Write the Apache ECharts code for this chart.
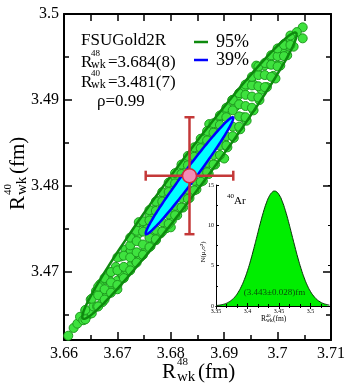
<!DOCTYPE html>
<html>
<head>
<meta charset="utf-8">
<script src="https://cdn.jsdelivr.net/npm/echarts@6/dist/echarts.min.js"></script>
<style>
html, body { margin: 0; padding: 0; background: #fff; }
#main { width: 349px; height: 386px; }
</style>
</head>
<body>
<div id="main"></div>
<script>
// samples of (R48, R40)
var samples = [
    [3.6608,3.4626],[3.6618,3.4635],[3.6625,3.4640],[3.6630,3.4648],[3.6636,3.4644],[3.6640,3.4655],
    [3.6645,3.4650],[3.6650,3.4668],[3.6652,3.4652],[3.6655,3.4660],[3.6660,3.4678],[3.6662,3.4660],
    [3.6668,3.4686],[3.6672,3.4665],[3.6675,3.4672],[3.6678,3.4691],[3.6681,3.4674],[3.6685,3.4690],
    [3.6688,3.4700],[3.6692,3.4682],[3.6697,3.4706],[3.6700,3.4690],[3.6700,3.4680],[3.6705,3.4700],
    [3.6706,3.4718],[3.6710,3.4696],[3.6715,3.4726],[3.6718,3.4702],[3.6722,3.4722],[3.6725,3.4725],
    [3.6726,3.4708],[3.6731,3.4740],[3.6735,3.4712],[3.6738,3.4722],[3.6740,3.4745],[3.6740,3.4758],
    [3.6744,3.4718],[3.6750,3.4756],[3.6753,3.4725],[3.6755,3.4750],[3.6760,3.4766],[3.6762,3.4730],
    [3.6768,3.4772],[3.6770,3.4748],[3.6772,3.4737],[3.6778,3.4783],[3.6781,3.4745],[3.6785,3.4775],
    [3.6788,3.4791],[3.6792,3.4751],[3.6798,3.4800],[3.6800,3.4772],[3.6800,3.4752],[3.6802,3.4760],
    [3.6809,3.4810],[3.6812,3.4766],[3.6815,3.4803],[3.6820,3.4818],[3.6823,3.4775],[3.6828,3.4792],
    [3.6832,3.4830],[3.6835,3.4786],[3.6845,3.4840],[3.6848,3.4796],[3.6850,3.4833],[3.6856,3.4848],
    [3.6860,3.4806],[3.6865,3.4822],[3.6868,3.4860],[3.6871,3.4814],[3.6872,3.4872],[3.6880,3.4868],
    [3.6883,3.4825],[3.6885,3.4862],[3.6892,3.4880],[3.6895,3.4834],[3.6900,3.4850],[3.6900,3.4832],
    [3.6904,3.4888],[3.6906,3.4845],[3.6915,3.4900],[3.6918,3.4856],[3.6920,3.4892],[3.6926,3.4905],
    [3.6930,3.4866],[3.6935,3.4880],[3.6938,3.4915],[3.6942,3.4876],[3.6950,3.4923],[3.6955,3.4888],
    [3.6955,3.4918],[3.6960,3.4940],[3.6962,3.4932],[3.6966,3.4900],[3.6970,3.4912],[3.6975,3.4940],
    [3.6980,3.4915],[3.6985,3.4942],[3.6988,3.4950],[3.6992,3.4928],[3.6996,3.4925],[3.6998,3.4940],
    [3.7000,3.4958],[3.7005,3.4940],[3.7010,3.4960],[3.7012,3.4965],[3.7018,3.4952],[3.7020,3.4963],
    [3.7025,3.4970],[3.7030,3.4962],[3.7047,3.49845],[3.7047,3.49717],
    [3.6640,3.4656],[3.6640,3.4645],[3.6652,3.4669],[3.6664,3.4660],[3.6664,3.4673],[3.6664,3.4683],
    [3.6676,3.4668],[3.6676,3.4680],[3.6676,3.4693],[3.6688,3.4676],[3.6688,3.4688],[3.6688,3.4700],
    [3.6700,3.4685],[3.6700,3.4702],[3.6700,3.4717],[3.6712,3.4693],[3.6712,3.4706],[3.6712,3.4719],
    [3.6724,3.4702],[3.6724,3.4717],[3.6724,3.4731],[3.6724,3.4740],[3.6736,3.4711],[3.6736,3.4723],
    [3.6736,3.4736],[3.6736,3.4748],[3.6748,3.4720],[3.6748,3.4732],[3.6748,3.4747],[3.6748,3.4759],
    [3.6760,3.4729],[3.6760,3.4740],[3.6760,3.4760],[3.6760,3.4772],[3.6772,3.4738],[3.6772,3.4749],
    [3.6772,3.4771],[3.6772,3.4782],[3.6784,3.4747],[3.6784,3.4758],[3.6784,3.4782],[3.6784,3.4793],
    [3.6796,3.4756],[3.6796,3.4767],[3.6796,3.4793],[3.6796,3.4804],[3.6808,3.4766],[3.6808,3.4777],
    [3.6808,3.4803],[3.6808,3.4815],[3.6820,3.4775],[3.6820,3.4786],[3.6820,3.4814],[3.6820,3.4825],
    [3.6832,3.4785],[3.6832,3.4796],[3.6832,3.4824],[3.6832,3.4835],[3.6844,3.4795],[3.6844,3.4806],
    [3.6844,3.4834],[3.6844,3.4845],[3.6856,3.4805],[3.6856,3.4816],[3.6856,3.4844],[3.6856,3.4855],
    [3.6868,3.4816],[3.6868,3.4827],[3.6868,3.4853],[3.6868,3.4864],[3.6880,3.4825],[3.6880,3.4836],
    [3.6880,3.4862],[3.6880,3.4873],[3.6892,3.4836],[3.6892,3.4847],[3.6892,3.4871],[3.6892,3.4882],
    [3.6904,3.4847],[3.6904,3.4858],[3.6904,3.4880],[3.6904,3.4891],[3.6916,3.4858],[3.6916,3.4869],
    [3.6916,3.4888],[3.6916,3.4900],[3.6928,3.4869],[3.6928,3.4881],[3.6928,3.4895],[3.6928,3.4908],
    [3.6940,3.4880],[3.6940,3.4893],[3.6940,3.4906],[3.6940,3.4918],[3.6952,3.4891],[3.6952,3.4904],
    [3.6952,3.4917],[3.6952,3.4927],[3.6964,3.4903],[3.6964,3.4916],[3.6964,3.4929],[3.6964,3.4939],
    [3.6976,3.4915],[3.6976,3.4929],[3.6976,3.4943],[3.6988,3.4927],[3.6988,3.4941],[3.6988,3.4952],
    [3.7000,3.4939],[3.7000,3.4951],[3.7000,3.4960],[3.7012,3.4951],[3.7012,3.4964],[3.7024,3.4964],
    [3.7024,3.4975],[3.7036,3.4979]
];

// mean, errors and correlation of the contours
var meanX = 3.6835, meanY = 3.4812;
var sigmaX = 0.0082, sigmaY = 0.0068;
var rho = 0.985;
var k95 = 2.4477, k39 = 1.0;

// inset: N(mu, sigma^2) of R40 for 40Ar
var gaussX = [3.35,3.355,3.36,3.365,3.37,3.375,3.38,3.385,3.39,3.395,3.40,3.405,3.41,3.415,3.42,3.425,3.43,3.435,3.44,3.443,3.445,3.45,3.455,3.46,3.465,3.47,3.475,3.48,3.485,3.49,3.495,3.50,3.505,3.51,3.515,3.52,3.525,3.53];
var gaussY = [0.06,0.10,0.18,0.29,0.48,0.75,1.13,1.67,2.38,3.28,4.38,5.67,7.12,8.64,10.17,11.59,12.79,13.68,14.17,14.25,14.21,13.81,13.00,11.85,10.47,8.95,7.42,5.95,4.63,3.48,2.54,1.79,1.23,0.81,0.52,0.32,0.20,0.11];

var yMajor = [3.47, 3.48, 3.49, 3.5];
var yMinor = [3.465, 3.475, 3.485, 3.495];

function ellipse(k) {
    var pts = [];
    for (var i = 0; i <= 160; i++) {
        var t = i / 160 * 2 * Math.PI;
        pts.push([meanX + k * sigmaX * Math.cos(t),
                  meanY + k * sigmaY * (rho * Math.cos(t) + Math.sqrt(1 - rho * rho) * Math.sin(t))]);
    }
    return pts;
}
var ell95 = ellipse(k95);
var ell39 = ellipse(k39);

var serif = '"Liberation Serif", "Times New Roman", serif';
function fmt(v) { return String(parseFloat(v.toFixed(3))); }

function txt(x, y, s, size, opts) {
    opts = opts || {};
    return {
        type: 'text', x: x, y: y, z: 20,
        style: {
            text: s, font: size + 'px ' + serif, fill: opts.color || '#000',
            align: opts.align || 'left', textAlign: opts.align || 'left',
            verticalAlign: 'middle', textVerticalAlign: 'middle'
        }
    };
}
// R with sub "wk" and a superscript, then the rest
function rName(x, y, rot, big, sup, supSize, subSize, dx, dSup, dSub, rest, restX) {
    return {
        type: 'group', x: x, y: y, rotation: rot, z: 20,
        children: [
            txt(0, 0, 'R', big),
            txt(dx, dSup, sup, supSize),
            txt(dx, dSub, 'wk', subSize),
            txt(restX, 0, rest, big)
        ]
    };
}

var mainAxisBase = {
    axisLine: { show: true, lineStyle: { color: '#000', width: 2 } },
    splitLine: { show: false },
    axisTick: { inside: true, length: 8, lineStyle: { color: '#000', width: 1.5 } }
};

var myChart = echarts.init(document.getElementById('main'));
var option = {
    animation: false,
    backgroundColor: '#fff',
    grid: [
        { left: 64, top: 14, width: 267, height: 326 },
        { left: 216, top: 185, width: 115, height: 121, show: true, backgroundColor: '#fff', borderWidth: 0, z: 5 }
    ],
    xAxis: [
        Object.assign({}, mainAxisBase, {
            type: 'value', gridIndex: 0, position: 'bottom', min: 3.66, max: 3.71, interval: 0.01,
            minorTick: { show: true, splitNumber: 2, length: 5, lineStyle: { color: '#000', width: 1.5 } },
            minorSplitLine: { show: false },
            axisLabel: { fontSize: 16, fontFamily: serif, color: '#000', margin: 6, formatter: fmt }
        }),
        Object.assign({}, mainAxisBase, {
            type: 'value', gridIndex: 0, position: 'top', min: 3.66, max: 3.71, interval: 0.005,
            axisTick: { inside: true, length: 7, lineStyle: { color: '#000', width: 1.5 } },
            axisLabel: { show: false }
        }),
        {
            type: 'value', gridIndex: 1, position: 'bottom', min: 3.35, max: 3.5325, interval: 0.05, z: 6,
            axisLine: { show: true, lineStyle: { color: '#000', width: 1 } },
            splitLine: { show: false },
            axisTick: { inside: true, length: 3, lineStyle: { color: '#000', width: 1 } },
            minorTick: { show: true, splitNumber: 3, length: 2, lineStyle: { color: '#000', width: 1 } },
            axisLabel: { fontSize: 6, fontFamily: serif, color: '#000', margin: 2, showMaxLabel: false, formatter: fmt }
        },
        {
            type: 'value', gridIndex: 1, position: 'top', min: 3.35, max: 3.5325, interval: 0.05, z: 6,
            axisLine: { show: true, lineStyle: { color: '#000', width: 1 } },
            splitLine: { show: false },
            axisTick: { inside: true, length: 3, lineStyle: { color: '#000', width: 1 } },
            minorTick: { show: true, splitNumber: 3, length: 2, lineStyle: { color: '#000', width: 1 } },
            axisLabel: { show: false }
        }
    ],
    yAxis: [
        Object.assign({}, mainAxisBase, {
            type: 'value', gridIndex: 0, position: 'left', min: 3.4621, max: 3.5,
            axisTick: { inside: true, length: 8, customValues: yMajor, lineStyle: { color: '#000', width: 1.5 } },
            axisLabel: { fontSize: 16, fontFamily: serif, color: '#000', margin: 5, customValues: yMajor, formatter: fmt }
        }),
        {
            type: 'value', gridIndex: 0, position: 'left', min: 3.4621, max: 3.5,
            axisLine: { show: false }, splitLine: { show: false }, axisLabel: { show: false },
            axisTick: { inside: true, length: 5, customValues: yMinor, lineStyle: { color: '#000', width: 1.5 } }
        },
        Object.assign({}, mainAxisBase, {
            type: 'value', gridIndex: 0, position: 'right', min: 3.4621, max: 3.5, z: 7,
            axisTick: { inside: true, length: 8, customValues: yMajor, lineStyle: { color: '#000', width: 1.5 } },
            axisLabel: { show: false }
        }),
        {
            type: 'value', gridIndex: 0, position: 'right', min: 3.4621, max: 3.5,
            axisLine: { show: false }, splitLine: { show: false }, axisLabel: { show: false },
            axisTick: { inside: true, length: 5, customValues: yMinor, lineStyle: { color: '#000', width: 1.5 } }
        },
        {
            type: 'value', gridIndex: 1, position: 'left', min: 0, max: 15, interval: 5, z: 6,
            axisLine: { show: true, lineStyle: { color: '#000', width: 1 } },
            splitLine: { show: false },
            axisTick: { inside: true, length: 3, lineStyle: { color: '#000', width: 1 } },
            minorTick: { show: true, splitNumber: 2, length: 2, lineStyle: { color: '#000', width: 1 } },
            axisLabel: { fontSize: 6, fontFamily: serif, color: '#000', margin: 2 }
        },
        {
            type: 'value', gridIndex: 1, position: 'right', min: 0, max: 15, interval: 5, z: 6,
            axisLine: { show: true, lineStyle: { color: '#000', width: 1 } },
            splitLine: { show: false },
            axisTick: { inside: true, length: 3, lineStyle: { color: '#000', width: 1 } },
            axisLabel: { show: false }
        }
    ],
    series: [
        {
            type: 'scatter', xAxisIndex: 0, yAxisIndex: 0, z: 2,
            data: samples, symbolSize: 9,
            itemStyle: { color: '#3ee23e', borderColor: '#1f9a1f', borderWidth: 1, opacity: 1 }
        },
        {
            type: 'custom', xAxisIndex: 0, yAxisIndex: 0, z: 3,
            data: [[meanX, meanY]],
            renderItem: function (params, api) {
                return {
                    type: 'polyline',
                    shape: { points: ell95.map(function (p) { return api.coord(p); }) },
                    style: { stroke: '#0e8a0e', lineWidth: 2.5, fill: null }
                };
            }
        },
        {
            type: 'custom', xAxisIndex: 0, yAxisIndex: 0, z: 4,
            data: [[meanX, meanY]],
            renderItem: function (params, api) {
                return {
                    type: 'polygon',
                    shape: { points: ell39.map(function (p) { return api.coord(p); }) },
                    style: { stroke: '#0000ff', lineWidth: 2.5, fill: '#00ffff' }
                };
            }
        },
        {
            type: 'custom', xAxisIndex: 0, yAxisIndex: 0, z: 5,
            data: [[meanX, meanY, sigmaX, sigmaY]],
            renderItem: function (params, api) {
                var x = api.value(0), y = api.value(1), sx = api.value(2), sy = api.value(3);
                var l = api.coord([x - sx, y]), r = api.coord([x + sx, y]);
                var t = api.coord([x, y + sy]), b = api.coord([x, y - sy]);
                var st = { stroke: '#c43838', lineWidth: 2.5 };
                var cap = 5;
                return {
                    type: 'group',
                    children: [
                        { type: 'line', shape: { x1: l[0], y1: l[1], x2: r[0], y2: r[1] }, style: st },
                        { type: 'line', shape: { x1: t[0], y1: t[1], x2: b[0], y2: b[1] }, style: st },
                        { type: 'line', shape: { x1: l[0], y1: l[1] - cap, x2: l[0], y2: l[1] + cap }, style: st },
                        { type: 'line', shape: { x1: r[0], y1: r[1] - cap, x2: r[0], y2: r[1] + cap }, style: st },
                        { type: 'line', shape: { x1: t[0] - cap, y1: t[1], x2: t[0] + cap, y2: t[1] }, style: st },
                        { type: 'line', shape: { x1: b[0] - cap, y1: b[1], x2: b[0] + cap, y2: b[1] }, style: st }
                    ]
                };
            }
        },
        {
            type: 'scatter', xAxisIndex: 0, yAxisIndex: 0, z: 6,
            data: [[meanX, meanY]], symbolSize: 14,
            itemStyle: { color: '#f48cb6', borderColor: '#d02a3a', borderWidth: 1.5, opacity: 1 }
        },
        {
            type: 'line', xAxisIndex: 2, yAxisIndex: 4, z: 6,
            data: gaussX.map(function (x, i) { return [x, gaussY[i]]; }),
            smooth: true, symbol: 'none',
            lineStyle: { color: '#0a300a', width: 1 },
            areaStyle: { color: '#00ee00', opacity: 1 }
        }
    ],
    graphic: {
        elements: [
            txt(81, 40.5, 'FSUGold2R', 17),
            rName(81, 62.5, 0, 17, '48', 9, 12, 10, -8.5, 2, '=3.684(8)', 27),
            rName(81, 82.5, 0, 17, '40', 9, 12, 10, -8.5, 2, '=3.481(7)', 27),
            txt(97, 102, 'ρ=0.99', 17),
            { type: 'line', z: 20, shape: { x1: 194, y1: 42, x2: 208, y2: 42 }, style: { stroke: '#0e8a0e', lineWidth: 2.5 } },
            { type: 'line', z: 20, shape: { x1: 194, y1: 60, x2: 208, y2: 60 }, style: { stroke: '#0000ff', lineWidth: 2.5 } },
            txt(216, 42, '95%', 18),
            txt(216, 60, '39%', 18),
            rName(162, 372, 0, 21, '48', 11, 15, 15, -10, 5, '(fm)', 36),
            rName(18, 210, Math.PI / 2, 21, '40', 11, 15, 15, -9.5, 4.5, '(fm)', 36),
            txt(227, 196, '40', 7),
            txt(234, 201, 'Ar', 11),
            txt(274.5, 293, '(3.443±0.028)fm', 9, { align: 'center', color: '#0a4a0a' }),
            rName(261, 319, 0, 7.5, '40', 4.5, 5.5, 5, -3, 1.5, '(fm)', 12),
            {
                type: 'group', x: 203, y: 252, rotation: Math.PI / 2, z: 20,
                children: [txt(0, 0, 'N(μ,σ²)', 7, { align: 'center' })]
            }
        ]
    }
};
myChart.setOption(option);
</script>
</body>
</html>
